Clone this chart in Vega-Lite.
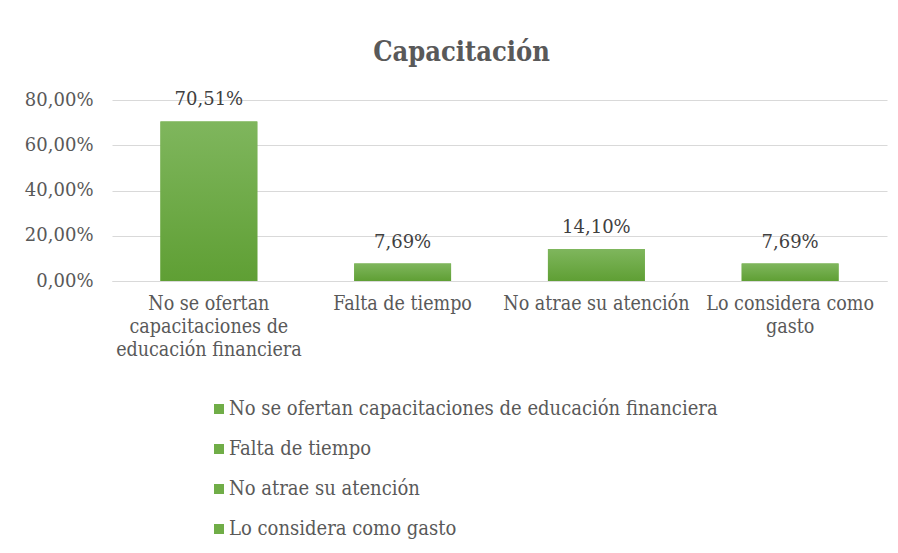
{
  "$schema": "https://vega.github.io/schema/vega-lite/v6.json",
  "width": 775,
  "height": 181,
  "autosize": {"type": "none"},
  "padding": {"left": 112, "top": 100, "right": 11, "bottom": 272},
  "background": "white",
  "config": {
    "locale": {"number": {"decimal": ",", "thousands": ".", "grouping": [3], "currency": ["", " €"]}},
    "view": {"stroke": null}
  },
  "title": {
    "text": "Capacitación",
    "font": "DejaVu Serif Condensed",
    "fontSize": 27,
    "fontWeight": "bold",
    "color": "#595959",
    "anchor": "middle",
    "dx": -38,
    "offset": 24
  },
  "data": {
    "values": [
      {"categoria": "No se ofertan capacitaciones de educación financiera", "valor": 0.7051},
      {"categoria": "Falta de tiempo", "valor": 0.0769},
      {"categoria": "No atrae su atención", "valor": 0.141},
      {"categoria": "Lo considera como gasto", "valor": 0.0769}
    ]
  },
  "encoding": {
    "x": {
      "field": "categoria",
      "type": "nominal",
      "sort": null,
      "scale": {"paddingInner": 0.5, "paddingOuter": 0.25},
      "axis": {
        "title": null,
        "labelAngle": 0,
        "labelFont": "DejaVu Serif Condensed",
        "labelFontSize": 19.5,
        "labelColor": "#595959",
        "labelBaseline": "top",
        "labelPadding": 13,
        "labelLineHeight": 23,
        "labelLimit": 0,
        "ticks": false,
        "domainColor": "#d9d9d9",
        "domainWidth": 1,
        "labelExpr": "datum.value == 'No se ofertan capacitaciones de educación financiera' ? ['No se ofertan', 'capacitaciones de', 'educación financiera'] : datum.value == 'Lo considera como gasto' ? ['Lo considera como', 'gasto'] : datum.value"
      }
    },
    "y": {
      "field": "valor",
      "type": "quantitative",
      "scale": {"domain": [0, 0.8]},
      "axis": {
        "title": null,
        "format": ".2%",
        "values": [0, 0.2, 0.4, 0.6, 0.8],
        "labelFont": "DejaVu Serif",
        "labelFontSize": 18,
        "labelColor": "#595959",
        "labelPadding": 19,
        "ticks": false,
        "domain": false,
        "gridColor": "#d9d9d9",
        "gridWidth": 1
      }
    }
  },
  "layer": [
    {
      "mark": {"type": "bar"},
      "encoding": {
        "fill": {
          "field": "categoria",
          "type": "nominal",
          "sort": null,
          "scale": {"range": ["#70ad47", "#70ad47", "#70ad47", "#70ad47"]},
          "legend": {
            "title": null,
            "orient": "none",
            "legendX": 97,
            "legendY": 299,
            "direction": "vertical",
            "symbolType": "square",
            "symbolSize": 100,
            "symbolStrokeWidth": 0,
            "labelFont": "DejaVu Serif Condensed",
            "labelFontSize": 20,
            "labelColor": "#595959",
            "labelOffset": 0,
            "labelLimit": 0,
            "rowPadding": 20
          }
        }
      }
    },
    {
      "mark": {
        "type": "bar",
        "color": {
          "gradient": "linear",
          "x1": 0, "y1": 0, "x2": 0, "y2": 1,
          "stops": [
            {"offset": 0, "color": "#7fb65d"},
            {"offset": 1, "color": "#5f9f34"}
          ]
        }
      }
    },
    {
      "mark": {
        "type": "text",
        "baseline": "bottom",
        "dy": -12,
        "font": "DejaVu Serif",
        "fontSize": 18,
        "color": "#404040"
      },
      "encoding": {
        "text": {"field": "valor", "type": "quantitative", "format": ".2%"}
      }
    }
  ]
}
